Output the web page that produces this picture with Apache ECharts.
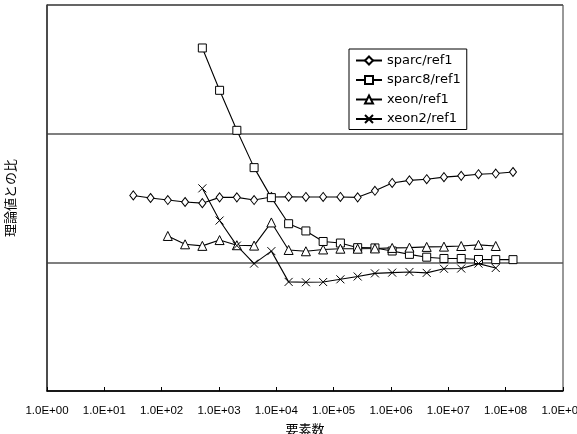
<!DOCTYPE html>
<html>
<head>
<meta charset="utf-8">
<script src="https://cdn.jsdelivr.net/npm/echarts@6/dist/echarts.min.js"></script>
<style>
  html, body { margin: 0; padding: 0; background: #fff; }
  #chart { width: 577px; height: 434px; }
</style>
</head>
<body>
<div id="chart"></div>
<script>
// element counts (x) and ratio to theoretical value (y)
const sparcX = [32, 64, 128, 256, 512, 1024, 2048, 4096, 8192, 16384, 32768, 65536, 131072, 262144, 524288, 1048576, 2097152, 4194304, 8388608, 16777216, 33554432, 67108864, 134217728];
const sparcY = [1.52, 1.50, 1.484, 1.469, 1.46, 1.505, 1.505, 1.484, 1.508, 1.51, 1.508, 1.508, 1.508, 1.505, 1.556, 1.617, 1.637, 1.646, 1.662, 1.672, 1.685, 1.69, 1.702];

const sparc8X = [512, 1024, 2048, 4096, 8192, 16384, 32768, 65536, 131072, 262144, 524288, 1048576, 2097152, 4194304, 8388608, 16777216, 33554432, 67108864, 134217728];
const sparc8Y = [2.666, 2.337, 2.026, 1.736, 1.503, 1.30, 1.244, 1.162, 1.15, 1.114, 1.112, 1.088, 1.062, 1.04, 1.03, 1.03, 1.022, 1.021, 1.021];

const xeonX = [128, 256, 512, 1024, 2048, 4096, 8192, 16384, 32768, 65536, 131072, 262144, 524288, 1048576, 2097152, 4194304, 8388608, 16777216, 33554432, 67108864];
const xeonY = [1.205, 1.14, 1.128, 1.173, 1.133, 1.13, 1.31, 1.096, 1.086, 1.1, 1.106, 1.106, 1.108, 1.112, 1.114, 1.12, 1.122, 1.127, 1.136, 1.127];

const xeon2X = [512, 1024, 2048, 4096, 8192, 16384, 32768, 65536, 131072, 262144, 524288, 1048576, 2097152, 4194304, 8388608, 16777216, 33554432, 67108864];
const xeon2Y = [1.575, 1.325, 1.13, 0.99, 1.087, 0.848, 0.845, 0.847, 0.868, 0.89, 0.914, 0.92, 0.925, 0.918, 0.95, 0.952, 0.99, 0.956];

const seriesNames = ['sparc/ref1', 'sparc8/ref1', 'xeon/ref1', 'xeon2/ref1'];
const tickLabels = ['1.0E+00', '1.0E+01', '1.0E+02', '1.0E+03', '1.0E+04', '1.0E+05', '1.0E+06', '1.0E+07', '1.0E+08', '1.0E+09'];

function pairs(xs, ys) {
    return xs.map((x, i) => [x, ys[i]]);
}

function lineSeries(name, xs, ys, symbol, size) {
    return {
        name: name,
        type: 'line',
        data: pairs(xs, ys),
        symbol: symbol,
        symbolSize: size,
        showAllSymbol: true,
        lineStyle: { color: '#000', width: 1.1 },
        itemStyle: { color: '#fff', borderColor: '#000', borderWidth: 1 },
        emphasis: { disabled: true },
        animation: false
    };
}

var chart = echarts.init(document.getElementById('chart'));
var option = {
    animation: false,
    grid: {
        left: 47, right: 14, top: 5, bottom: 43,
        outerBoundsMode: 'none',
        containLabel: false,
        show: true, borderColor: '#333', borderWidth: 1
    },
    legend: {
        data: seriesNames,
        orient: 'vertical',
        left: 349,
        top: 49,
        backgroundColor: '#fff',
        borderColor: '#000',
        borderWidth: 1,
        padding: [5, 6, 4, 6],
        itemWidth: 26,
        itemHeight: 10,
        itemGap: 6.5,
        textStyle: { fontFamily: 'DejaVu Sans', fontSize: 13, color: '#000' }
    },
    xAxis: {
        type: 'log',
        logBase: 10,
        min: 1,
        max: 1e9,
        interval: 1,
        name: '要素数',
        nameLocation: 'middle',
        nameGap: 32,
        nameTextStyle: { fontFamily: 'Noto Sans CJK JP', fontSize: 13, color: '#000' },
        axisLine: { lineStyle: { color: '#000', width: 1.5 } },
        axisTick: { inside: true, length: 4, lineStyle: { color: '#000' } },
        axisLabel: {
            margin: 14,
            fontFamily: 'Liberation Sans',
            fontSize: 11.5,
            color: '#000',
            hideOverlap: false,
            formatter: function (v) {
                return tickLabels[Math.round(Math.log10(v))];
            }
        },
        splitLine: { show: false }
    },
    yAxis: {
        type: 'value',
        min: 0,
        max: 3,
        interval: 1,
        name: '理論値との比',
        nameLocation: 'middle',
        nameGap: 30,
        nameTextStyle: { fontFamily: 'Noto Sans CJK JP', fontSize: 13, color: '#000' },
        axisLine: { show: true, lineStyle: { color: '#333', width: 1.5 } },
        axisTick: { show: false },
        axisLabel: { show: false },
        splitLine: { lineStyle: { color: '#555', width: 1.5 } }
    },
    series: [
        lineSeries(seriesNames[0], sparcX, sparcY, 'diamond', [7, 9]),
        lineSeries(seriesNames[1], sparc8X, sparc8Y, 'rect', 8),
        lineSeries(seriesNames[2], xeonX, xeonY, 'triangle', 9),
        lineSeries(seriesNames[3], xeon2X, xeon2Y, 'path://M0,0L10,10M0,10L10,0', 8)
    ]
};
chart.setOption(option);
</script>
</body>
</html>
